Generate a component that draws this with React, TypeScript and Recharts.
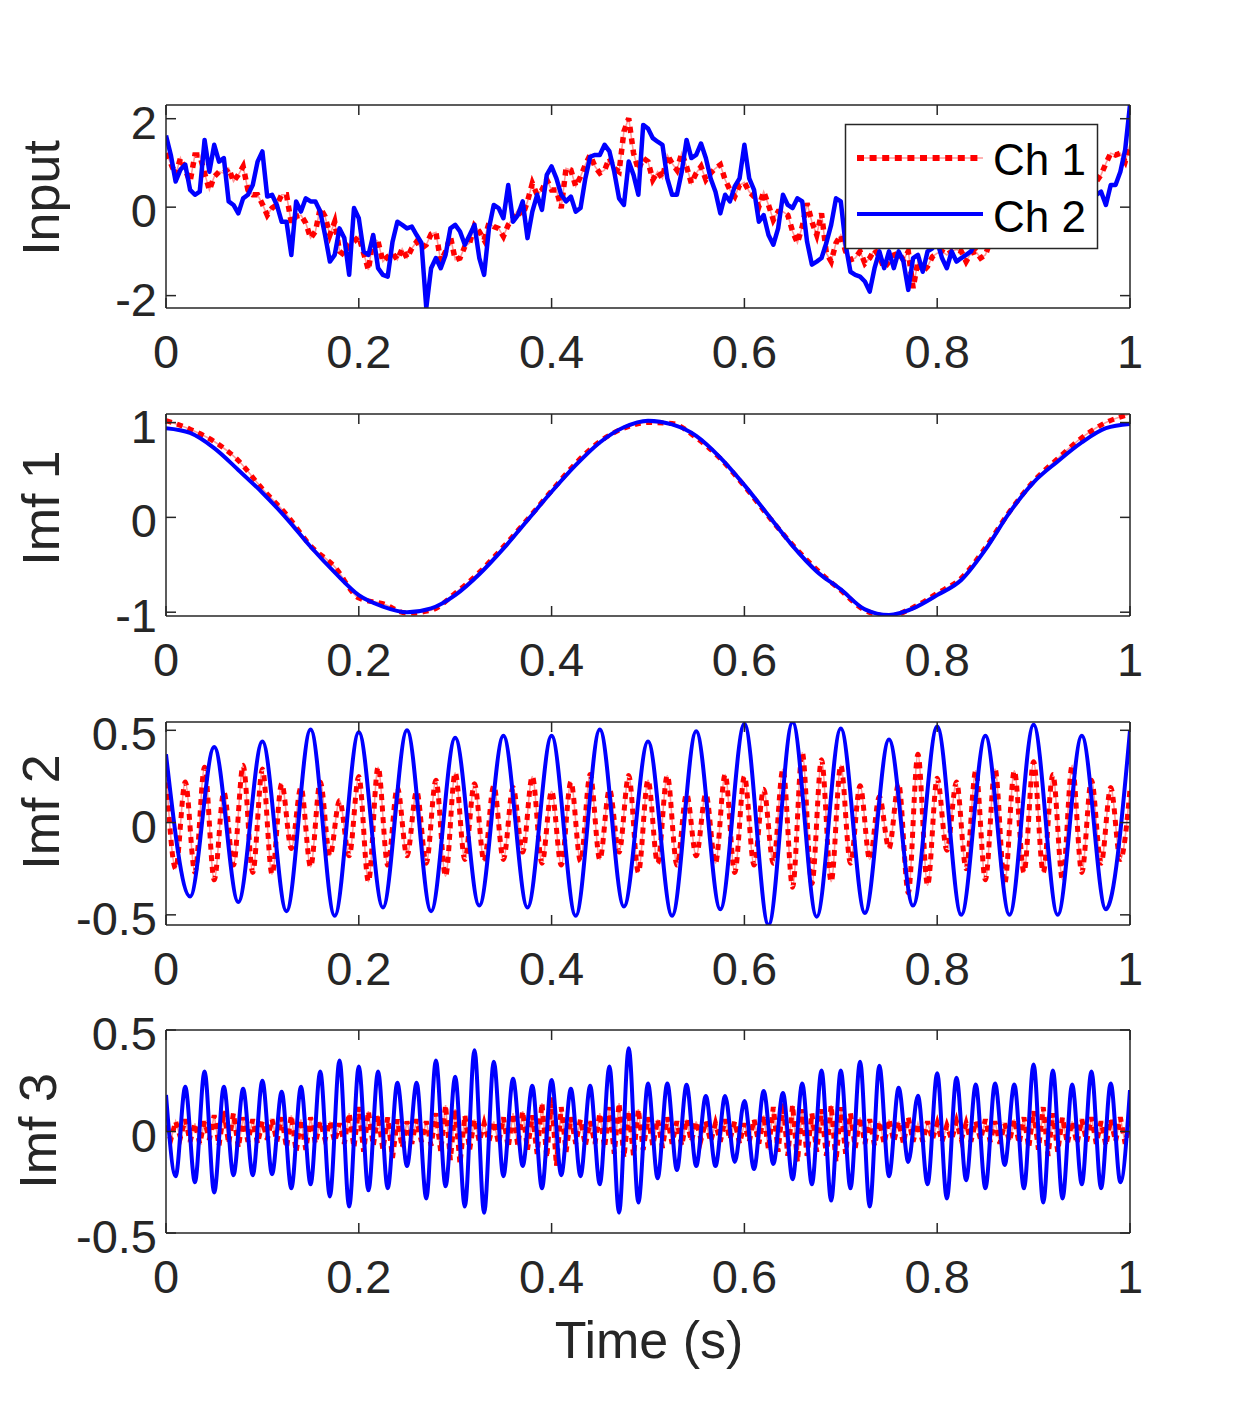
import React from 'react';
import { LineChart, Line, XAxis, YAxis } from 'recharts';

const FONT = '"Liberation Sans", Arial, Helvetica, sans-serif';
const INK = '#262626';
const RED = '#ff0000';
const BLUE = '#0000ff';

const xTicks = [0, 0.2, 0.4, 0.6, 0.8, 1];
const xTickLabels = ['0', '0.2', '0.4', '0.6', '0.8', '1'];

const inputTicks = [-2, 0, 2];
const imf1Ticks = [-1, 0, 1];
const imf2Ticks = [-0.5, 0, 0.5];
const imf3Ticks = [-0.5, 0, 0.5];

const seriesNames = ['Ch 1', 'Ch 2'];
const axisLabels = ['Input', 'Imf 1', 'Imf 2', 'Imf 3'];
const xLabel = 'Time (s)';

// Input, step 0.005
const inputCh1 = [
  1.22, 0.99, 0.73, 1.11, 0.84, 0.58, 1.18, 1.18, 0.77, 0.39,
  0.69, 0.80, 0.77, 0.88, 0.58, 0.73, 0.92, 0.39, 0.28, 0.28,
  0.07, -0.18, -0.02, 0.05, 0.28, 0.28, -0.36, -0.21, -0.18, -0.36,
  -0.70, -0.55, -0.02, -0.21, -0.63, -0.33, -1.00, -1.08, -0.85, -0.78,
  -0.66, -1.04, -1.42, -0.70, -0.78, -1.23, -1.12, -1.04, -1.19, -0.94,
  -1.15, -0.93, -0.78, -0.93, -0.85, -0.61, -0.57, -1.23, -1.00, -0.66,
  -1.19, -1.15, -0.89, -0.81, -0.42, -0.55, -0.74, -0.36, -0.44, -0.48,
  -0.66, -0.40, -0.25, -0.06, -0.18, 0.13, 0.54, 0.28, 0.39, 0.62,
  0.39, 0.39, -0.02, 0.88, 0.84, 0.47, 0.69, 0.96, 1.18, 0.92,
  0.77, 0.84, 1.11, 0.88, 0.80, 1.71, 2.01, 1.22, 0.84, 1.11,
  1.03,
  0.62, 0.80, 0.65, 1.18, 0.99, 0.84, 1.22, 0.92, 0.54, 0.77,
  0.92, 0.62, 0.77, 0.88, 0.96, 0.62, 0.39, 0.24, 0.50, 0.56,
  0.35, 0.24, 0.01, 0.35, 0.05, -0.29, -0.10, -0.10, -0.18, -0.55,
  -0.81, -0.44, 0.09, -0.33, -0.63, -0.14, -1.04, -1.23, -0.81, -0.63,
  -1.00, -1.19, -1.15, -1.00, -1.27, -1.15, -0.96, -1.12, -1.38, -1.23,
  -1.08, -1.04, -1.19, -1.00, -1.83, -1.23, -1.46, -1.34, -1.12, -1.04,
  -1.00, -1.08, -1.00, -0.96, -1.00, -1.23, -1.04, -1.00, -1.15, -1.08,
  -0.78, -0.63, -0.70, -0.40, -0.33, -0.18, -0.02, 0.05, 0.28, 0.20,
  0.43, 0.35, 0.58, 0.50, 0.73, 0.65, 0.88, 0.73, 0.96, 0.84,
  1.03, 0.80, 0.58, 0.73, 0.99, 1.22, 1.18, 1.22, 1.03, 1.41,
];

const inputCh2 = [
  1.62, 1.18, 0.58, 0.85, 0.96, 0.39, 0.28, 0.35, 1.52, 0.80,
  1.41, 1.03, 1.11, 0.13, 0.05, -0.14, 0.20, 0.28, 0.50, 1.03,
  1.26, 0.24, 0.28, 0.05, -0.33, -0.33, -1.08, 0.13, -0.10, 0.20,
  0.13, 0.13, -0.10, -0.63, -1.23, -1.08, -0.48, -0.70, -1.53, -0.02,
  -0.25, -1.00, -1.08, -0.63, -1.38, -1.53, -1.57, -0.78, -0.33, -0.40,
  -0.48, -0.44, -0.63, -0.81, -2.28, -1.38, -1.15, -1.38, -1.08, -0.48,
  -0.40, -0.55, -0.85, -0.63, -0.40, -1.15, -1.53, -0.48, 0.05, -0.02,
  -0.25, 0.50, -0.33, -0.18, 0.13, -0.70, -0.10, 0.28, -0.06, 0.73,
  0.92, 0.65, 0.28, 0.13, 0.24, -0.10, -0.02, 0.65, 1.14, 1.18,
  1.18, 1.41, 1.26, 0.80, 0.20, 0.05, 1.03, 0.73, 0.28, 1.86,
  1.78,
  1.56, 1.48, 1.41, 0.65, 0.28, 0.28, 0.80, 1.52, 1.11, 1.18,
  1.44, 1.11, 0.65, 0.35, -0.14, 0.28, 0.13, 0.47, 0.65, 1.41,
  0.65, 0.39, -0.33, -0.18, -0.63, -0.85, -0.48, 0.28, 0.05, -0.02,
  0.20, 0.13, -0.78, -1.30, -1.23, -1.15, -0.81, -0.40, 0.20, 0.13,
  -0.85, -1.46, -1.53, -1.57, -1.68, -1.91, -1.38, -1.00, -1.38, -1.00,
  -1.38, -1.00, -1.23, -1.87, -1.15, -1.08, -1.46, -1.00, -0.93, -0.78,
  -1.15, -1.38, -1.00, -1.23, -1.15, -1.08, -1.00, -0.78, -0.63, -0.48,
  -0.70, -0.33, -0.48, -0.10, -0.25, 0.13, -0.02, 0.35, 0.13, 0.58,
  0.35, 0.65, 0.50, 0.88, 0.65, 1.03, 0.80, 1.11, 0.80, 1.03,
  0.65, 0.73, 0.28, 0.35, 0.05, 0.50, 0.50, 0.80, 1.30, 2.31,
];

// Imf 1, step 0.025
const imf1Ch1 = [
  1.02, 0.93, 0.80, 0.60, 0.30, 0.03, -0.30, -0.52, -0.85, -0.91,
  -1.01, -0.98, -0.80, -0.58, -0.31, -0.02, 0.28, 0.57, 0.80, 0.94,
  1.00, 0.99, 0.84, 0.62, 0.33, 0.01, -0.29, -0.55, -0.77, -0.98,
  -1.04, -0.95, -0.80, -0.64, -0.32, 0.06, 0.38, 0.62, 0.84, 1.00,
  1.09,
];
const imf1Ch2 = [
  0.94, 0.89, 0.73, 0.50, 0.26, -0.01, -0.31, -0.58, -0.82, -0.94,
  -1.00, -0.96, -0.82, -0.60, -0.33, -0.03, 0.27, 0.55, 0.79, 0.95,
  1.02, 0.98, 0.86, 0.63, 0.34, 0.02, -0.30, -0.57, -0.76, -0.97,
  -1.03, -0.96, -0.82, -0.66, -0.34, 0.05, 0.37, 0.59, 0.79, 0.94,
  0.985,
];

// Imf 2: Ch 1 extremes every 0.01, Ch 2 extremes every 0.025
const imf2Ch1 = [
  0.28, -0.25, 0.22, -0.27, 0.30, -0.31, 0.165, -0.23, 0.31, -0.27,
  0.29, -0.28, 0.21, -0.14, 0.19, -0.24, 0.22, -0.18, 0.12, -0.18,
  0.25, -0.32, 0.30, -0.23, 0.19, -0.18, 0.17, -0.22, 0.23, -0.29,
  0.27, -0.20, 0.21, -0.21, 0.20, -0.20, 0.19, -0.16, 0.25, -0.22,
  0.17, -0.23, 0.22, -0.21, 0.26, -0.20, 0.18, -0.16, 0.255, -0.27,
  0.23, -0.22, 0.255, -0.23, 0.155, -0.18, 0.155, -0.22, 0.26, -0.27,
  0.25, -0.23, 0.18, -0.22, 0.29, -0.35, 0.38, -0.33, 0.34, -0.32,
  0.31, -0.22, 0.20, -0.20, 0.14, -0.14, 0.21, -0.38, 0.37, -0.34,
  0.24, -0.15, 0.22, -0.25, 0.28, -0.31, 0.29, -0.33, 0.28, -0.27,
  0.33, -0.27, 0.26, -0.31, 0.31, -0.27, 0.23, -0.22, 0.19, -0.20,
  0.18,
];
const imf2Ch2 = [
  0.37, -0.40, 0.41, -0.43, 0.44, -0.48, 0.505, -0.505, 0.49, -0.46,
  0.50, -0.48, 0.46, -0.45, 0.47, -0.46, 0.47, -0.505, 0.505, -0.455,
  0.44, -0.505, 0.495, -0.47, 0.535, -0.555, 0.545, -0.51, 0.51, -0.49,
  0.45, -0.45, 0.52, -0.50, 0.47, -0.50, 0.53, -0.50, 0.47, -0.47,
  0.50,
];

// Imf 3: Ch 1 every 0.005, Ch 2 extremes every 0.01
const imf3Ch1 = [
  0.03, -0.04, 0.05, -0.03, 0.06, -0.05, 0.04, -0.06, 0.05, -0.04,
  0.08, -0.07, 0.10, -0.06, 0.09, -0.08, 0.07, -0.05, 0.06, -0.06,
  0.05, -0.04, 0.06, -0.05, 0.07, -0.08, 0.08, -0.10, 0.06, -0.09,
  0.07, -0.06, 0.05, -0.04, 0.05, -0.05, 0.04, -0.06, 0.09, -0.08,
  0.12, -0.10, 0.10, -0.07, 0.08, -0.09, 0.07, -0.13, 0.06, -0.08,
  0.05, -0.06, 0.06, -0.05, 0.05, -0.07, 0.09, -0.10, 0.13, -0.14,
  0.11, -0.16, 0.08, -0.09, 0.06, -0.05, 0.04, -0.05, 0.05, -0.06,
  0.07, -0.08, 0.09, -0.07, 0.10, -0.09, 0.08, -0.11, 0.14, -0.13,
  0.17, -0.17, 0.12, -0.10, 0.07, -0.06, 0.06, -0.07, 0.05, -0.06,
  0.09, -0.08, 0.12, -0.11, 0.14, -0.13, 0.10, -0.12, 0.11, -0.09,
  0.07, -0.07, 0.06, -0.08, 0.07, -0.06, 0.05, -0.07, 0.06, -0.05,
  0.05, -0.04, 0.05, -0.05, 0.04, -0.05, 0.06, -0.04, 0.05, -0.06,
  0.04, -0.05, 0.06, -0.06, 0.08, -0.09, 0.12, -0.10, 0.14, -0.12,
  0.13, -0.15, 0.11, -0.12, 0.09, -0.10, 0.11, -0.12, 0.13, -0.15,
  0.12, -0.11, 0.09, -0.08, 0.07, -0.06, 0.06, -0.07, 0.05, -0.06,
  0.06, -0.05, 0.05, -0.06, 0.07, -0.05, 0.04, -0.05, 0.05, -0.04,
  0.04, -0.05, 0.03, -0.04, 0.05, -0.04, 0.04, -0.05, 0.05, -0.04,
  0.06, -0.05, 0.05, -0.06, 0.04, -0.05, 0.06, -0.06, 0.07, -0.08,
  0.10, -0.09, 0.12, -0.12, 0.09, -0.10, 0.07, -0.06, 0.05, -0.06,
  0.06, -0.05, 0.07, -0.06, 0.05, -0.07, 0.06, -0.05, 0.07, -0.06,
  0.05,
];
const imf3Ch2 = [
  0.18, -0.22, 0.22, -0.25, 0.295, -0.30, 0.22, -0.215, 0.21, -0.215,
  0.25, -0.21, 0.196, -0.28, 0.22, -0.26, 0.295, -0.32, 0.35, -0.37,
  0.32, -0.29, 0.295, -0.28, 0.24, -0.17, 0.24, -0.33, 0.35, -0.27,
  0.27, -0.37, 0.40, -0.40, 0.344, -0.22, 0.26, -0.17, 0.225, -0.28,
  0.254, -0.215, 0.21, -0.22, 0.225, -0.26, 0.32, -0.40, 0.41, -0.35,
  0.237, -0.23, 0.237, -0.19, 0.23, -0.17, 0.175, -0.17, 0.175, -0.15,
  0.15, -0.185, 0.20, -0.16, 0.19, -0.235, 0.237, -0.26, 0.30, -0.34,
  0.30, -0.28, 0.344, -0.37, 0.324, -0.22, 0.216, -0.15, 0.176, -0.26,
  0.287, -0.33, 0.265, -0.24, 0.232, -0.28, 0.237, -0.165, 0.232, -0.28,
  0.33, -0.35, 0.30, -0.33, 0.232, -0.26, 0.295, -0.28, 0.237, -0.25,
  0.204,
];

const toSeries = (vals: number[], step: number) =>
  vals.map((v, i) => ({ t: Math.round(i * step * 100000) / 100000, v }));

type PanelDef = {
  label: string;
  top: number;
  bottom: number;
  domain: [number, number];
  ticks: number[];
  red: { t: number; v: number }[];
  blue: { t: number; v: number }[];
  curve: 'linear' | 'monotone';
  redCurve: 'linear' | 'monotone';
  labelX: number;
  labelY: number;
  lineW: number;
};

const panels: PanelDef[] = [
  {
    label: axisLabels[0], top: 105, bottom: 308, domain: [-2.28, 2.31], ticks: inputTicks,
    red: toSeries(inputCh1, 0.005), blue: toSeries(inputCh2, 0.005),
    curve: 'linear', redCurve: 'linear', labelX: 59, labelY: 198, lineW: 4.5,
  },
  {
    label: axisLabels[1], top: 414, bottom: 616, domain: [-1.04, 1.09], ticks: imf1Ticks,
    red: toSeries(imf1Ch1, 0.025), blue: toSeries(imf1Ch2, 0.025),
    curve: 'monotone', redCurve: 'monotone', labelX: 59, labelY: 508, lineW: 4,
  },
  {
    label: axisLabels[2], top: 722, bottom: 925, domain: [-0.555, 0.545], ticks: imf2Ticks,
    red: toSeries(imf2Ch1, 0.01), blue: toSeries(imf2Ch2, 0.025),
    curve: 'monotone', redCurve: 'monotone', labelX: 59, labelY: 812, lineW: 4,
  },
  {
    label: axisLabels[3], top: 1030, bottom: 1233, domain: [-0.5, 0.5], ticks: imf3Ticks,
    red: toSeries(imf3Ch1, 0.005), blue: toSeries(imf3Ch2, 0.01),
    curve: 'monotone', redCurve: 'linear', labelX: 56, labelY: 1131, lineW: 4,
  },
];

const TICK = 10;
const TICK_FS = 47;

const BottomTick = (props: any) => {
  const { x, y, payload } = props;
  const i = xTicks.indexOf(payload.value);
  return (
    <g>
      <line x1={x} y1={y} x2={x} y2={y - TICK} stroke={INK} strokeWidth={1.5} />
      <text x={x} y={y + 60} textAnchor="middle" fontSize={TICK_FS} fontFamily={FONT} fill={INK}>
        {i >= 0 ? xTickLabels[i] : String(payload.value)}
      </text>
    </g>
  );
};

const TopTick = (props: any) => {
  const { x, y } = props;
  return <line x1={x} y1={y} x2={x} y2={y + TICK} stroke={INK} strokeWidth={1.5} />;
};

const LeftTick = (props: any) => {
  const { x, y, payload } = props;
  return (
    <g>
      <line x1={x} y1={y} x2={x + TICK} y2={y} stroke={INK} strokeWidth={1.5} />
      <text x={x - 9} y={y + 20} textAnchor="end" fontSize={TICK_FS} fontFamily={FONT} fill={INK}>
        {String(payload.value)}
      </text>
    </g>
  );
};

const RightTick = (props: any) => {
  const { x, y } = props;
  return <line x1={x} y1={y} x2={x - TICK} y2={y} stroke={INK} strokeWidth={1.5} />;
};

const axisLine = { stroke: INK, strokeWidth: 1.5 };
const DASH = '6 5.5';

function Panel({ p }: { p: PanelDef }) {
  const plotH = p.bottom - p.top;
  const H = plotH + 120;
  return (
    <div style={{ position: 'absolute', left: 0, top: p.top - 50, width: 1250, height: H }}>
      <LineChart width={1250} height={H} margin={{ top: 20, right: 60, bottom: 40, left: 106 }}>
        <XAxis
          dataKey="t" type="number" domain={[0, 1]} ticks={xTicks} allowDataOverflow
          orientation="bottom" height={30} tickSize={0} tickMargin={0} tickLine={false}
          interval={0} axisLine={axisLine} tick={(tp: any) => <BottomTick {...tp} />}
        />
        <XAxis
          xAxisId="top" dataKey="t" type="number" domain={[0, 1]} ticks={xTicks} allowDataOverflow
          orientation="top" height={30} tickSize={0} tickMargin={0} tickLine={false}
          interval={0} axisLine={axisLine} tick={(tp: any) => <TopTick {...tp} />}
        />
        <YAxis
          type="number" domain={p.domain} ticks={p.ticks} allowDataOverflow
          orientation="left" width={60} tickSize={0} tickMargin={0} tickLine={false}
          interval={0} axisLine={axisLine} tick={(tp: any) => <LeftTick {...tp} />}
        />
        <YAxis
          yAxisId="right" type="number" domain={p.domain} ticks={p.ticks} allowDataOverflow
          orientation="right" width={60} tickSize={0} tickMargin={0} tickLine={false}
          interval={0} axisLine={axisLine} tick={(tp: any) => <RightTick {...tp} />}
        />
        <Line
          data={p.red} dataKey="v" type={p.redCurve} stroke={RED} strokeWidth={1.6}
          strokeOpacity={0.4} dot={false} activeDot={false} isAnimationActive={false}
        />
        <Line
          data={p.red} dataKey="v" type={p.redCurve} stroke={RED} strokeWidth={p.lineW + 1}
          strokeDasharray={DASH} dot={false} activeDot={false} isAnimationActive={false}
        />
        <Line
          data={p.blue} dataKey="v" type={p.curve} stroke={BLUE} strokeWidth={p.lineW}
          strokeLinejoin="round" dot={false} activeDot={false} isAnimationActive={false}
        />
      </LineChart>
    </div>
  );
}

export default function App() {
  return (
    <div style={{ position: 'absolute', left: 0, top: 0, width: 1250, height: 1406, background: '#ffffff' }}>
      {panels.map((p) => (
        <Panel key={p.label} p={p} />
      ))}
      <svg
        width={1250} height={1406}
        style={{ position: 'absolute', left: 0, top: 0, pointerEvents: 'none' }}
      >
        {panels.map((p) => (
          <text
            key={p.label} x={p.labelX} y={p.labelY} textAnchor="middle" fontSize={52}
            fontFamily={FONT} fill={INK} transform={`rotate(-90 ${p.labelX} ${p.labelY})`}
          >
            {p.label}
          </text>
        ))}
        <text x={649} y={1358} textAnchor="middle" fontSize={52} fontFamily={FONT} fill={INK}>
          {xLabel}
        </text>
        <rect x={845.5} y={124.5} width={252} height={124} fill="#ffffff" stroke={INK} strokeWidth={1.5} />
        <line x1={857} y1={158} x2={983} y2={158} stroke={RED} strokeWidth={1.6} strokeOpacity={0.4} />
        <line x1={857} y1={158} x2={983} y2={158} stroke={RED} strokeWidth={6} strokeDasharray="7 5.6" />
        <line x1={857} y1={214} x2={983} y2={214} stroke={BLUE} strokeWidth={4} />
        <text x={993} y={175} fontSize={44} fontFamily={FONT} fill="#000000">{seriesNames[0]}</text>
        <text x={993} y={232} fontSize={44} fontFamily={FONT} fill="#000000">{seriesNames[1]}</text>
      </svg>
    </div>
  );
}
